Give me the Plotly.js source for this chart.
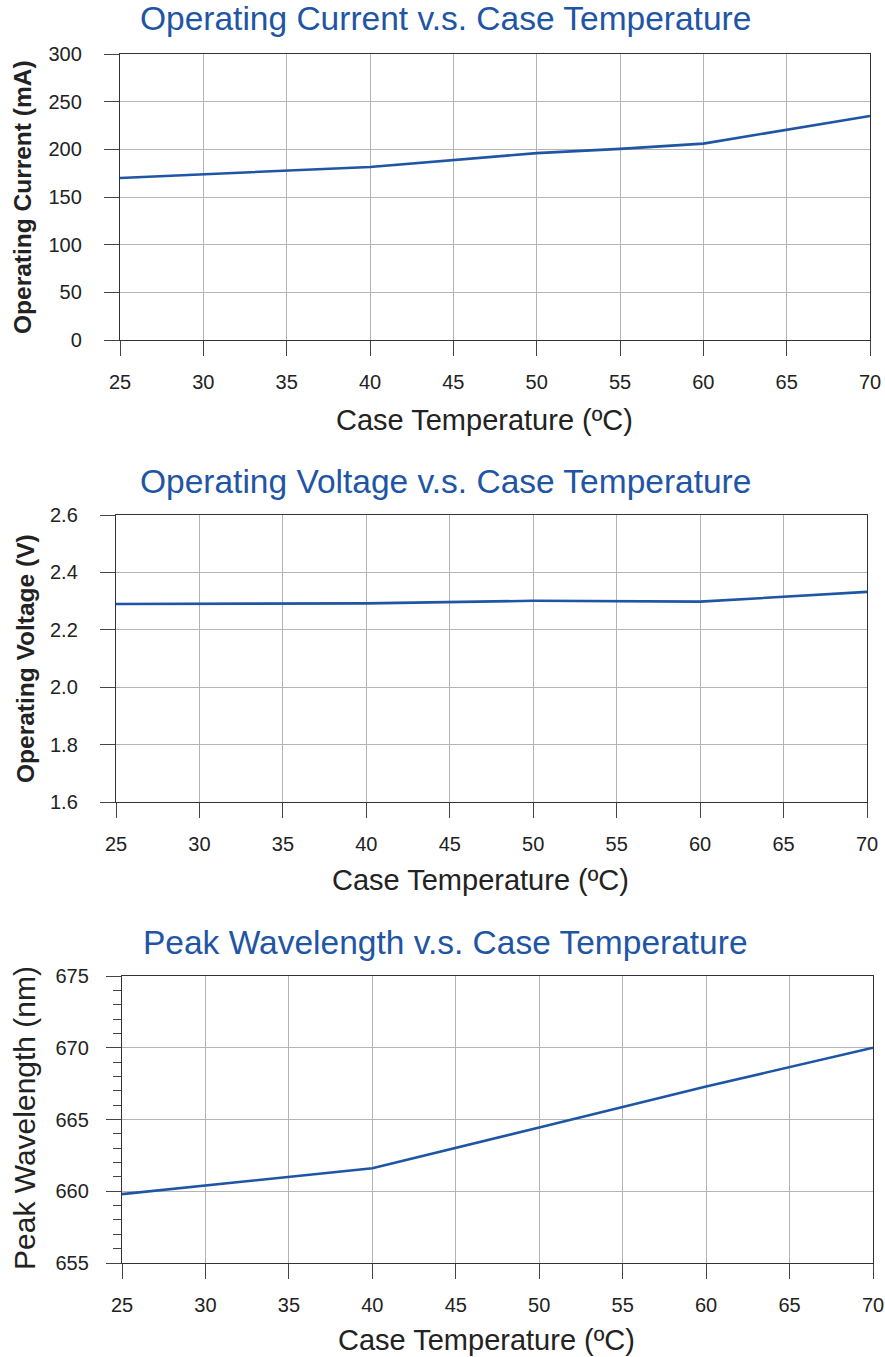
<!DOCTYPE html>
<html>
<head>
<meta charset="utf-8">
<script src="https://cdn.plot.ly/plotly-3.0.1.min.js"></script>
<style>html,body{margin:0;padding:0;background:#fff;}#chart{width:885px;height:1357px;}</style>
</head>
<body>
<div id="chart"></div>
<script>
const currentTemp = [25, 30, 40, 50, 55, 60, 70];
const currentMA = [170, 174, 181.5, 196, 200.5, 206, 235];
const voltageTemp = [25, 40, 50, 60, 70];
const voltageV = [2.29, 2.292, 2.301, 2.298, 2.332];
const wavelengthTemp = [25, 30, 35, 40, 50, 55, 60, 70];
const wavelengthNM = [659.8, 660.4, 660.95, 661.6, 664.45, 665.9, 667.3, 670.0];
const xTicks = [25, 30, 35, 40, 45, 50, 55, 60, 65, 70];
const titles = ["Operating Current v.s. Case Temperature", "Operating Voltage v.s. Case Temperature", "Peak Wavelength v.s. Case Temperature"];
const yTitles = ["Operating Current (mA)", "Operating Voltage (V)", "Peak Wavelength (nm)"];
const xTitle = "Case Temperature (ºC)";

const W = 885, H = 1357;
const FONT = "Arial, 'Liberation Sans', sans-serif";
const BLUE = "#1f55a5";
const px = v => v / W;
const py = v => 1 - v / H;

const lineStyle = {color: BLUE, width: 2.6};
const data = [
  {x: currentTemp, y: currentMA, type: 'scatter', mode: 'lines', line: lineStyle, xaxis: 'x', yaxis: 'y', showlegend: false},
  {x: voltageTemp, y: voltageV, type: 'scatter', mode: 'lines', line: lineStyle, xaxis: 'x2', yaxis: 'y2', showlegend: false},
  {x: wavelengthTemp, y: wavelengthNM, type: 'scatter', mode: 'lines', line: lineStyle, xaxis: 'x3', yaxis: 'y3', showlegend: false}
];

function xAxis(dom, anchor) {
  return {
    domain: dom, anchor: anchor, range: [25, 70], tickvals: xTicks,
    showgrid: true, gridcolor: '#b4b4b4', gridwidth: 1,
    showline: true, mirror: true, linecolor: '#333', linewidth: 1.2,
    ticks: 'outside', ticklen: 15, tickcolor: '#444', tickwidth: 1,
    ticklabelstandoff: 9,
    tickfont: {family: FONT, size: 20, color: '#222'}, zeroline: false, fixedrange: true
  };
}
function yAxis(dom, anchor, range, dtick, fmt) {
  return {
    domain: dom, anchor: anchor, range: range, dtick: dtick, tick0: range[0], tickformat: fmt,
    showgrid: true, gridcolor: '#b4b4b4', gridwidth: 1,
    showline: true, mirror: true, linecolor: '#333', linewidth: 1.2,
    ticks: 'outside', ticklen: 15, tickcolor: '#444', tickwidth: 1,
    ticklabelstandoff: 18,
    tickfont: {family: FONT, size: 20, color: '#222'}, zeroline: false, fixedrange: true
  };
}

const y3 = yAxis([py(1263), py(976)], 'x3', [655, 675], 5, 'd');
y3.minor = {dtick: 1, ticks: 'outside', ticklen: 8, tickcolor: '#444', showgrid: false};
y3.ticklabelstandoff = 13;

const layout = {
  width: W, height: H,
  margin: {l: 0, r: 0, t: 0, b: 0},
  paper_bgcolor: '#fff', plot_bgcolor: '#fff',
  xaxis: xAxis([px(120), px(870)], 'y'),
  yaxis: yAxis([py(340), py(54)], 'x', [0, 300], 50, 'd'),
  xaxis2: xAxis([px(116), px(867)], 'y2'),
  yaxis2: yAxis([py(802), py(515)], 'x2', [1.6, 2.6], 0.2, '.1f'),
  xaxis3: xAxis([px(122), px(873)], 'y3'),
  yaxis3: y3,
  annotations: []
};

const titleY = [18, 481, 942];
const xTitleY = [420, 880, 1340];
const xTitleX = [484, 480, 486];
const yTitleX = [22, 25, 24];
const yTitleY = [197, 659, 1118];
for (let i = 0; i < 3; i++) {
  layout.annotations.push({
    text: titles[i], xref: 'paper', yref: 'paper', x: px(445), y: py(titleY[i]),
    xanchor: 'center', yanchor: 'middle', showarrow: false,
    font: {family: FONT, size: 33.5, color: BLUE}
  });
  layout.annotations.push({
    text: xTitle, xref: 'paper', yref: 'paper', x: px(xTitleX[i]), y: py(xTitleY[i]),
    xanchor: 'center', yanchor: 'middle', showarrow: false,
    font: {family: FONT, size: 29, color: '#222'}
  });
  layout.annotations.push({
    text: i < 2 ? '<b>' + yTitles[i] + '</b>' : yTitles[i], xref: 'paper', yref: 'paper',
    x: px(yTitleX[i]), y: py(yTitleY[i]), textangle: -90,
    xanchor: 'center', yanchor: 'middle', showarrow: false,
    font: {family: FONT, size: i < 2 ? 24.5 : 30, color: '#222'}
  });
}

Plotly.newPlot('chart', data, layout, {displayModeBar: false, staticPlot: true});
</script>
</body>
</html>
